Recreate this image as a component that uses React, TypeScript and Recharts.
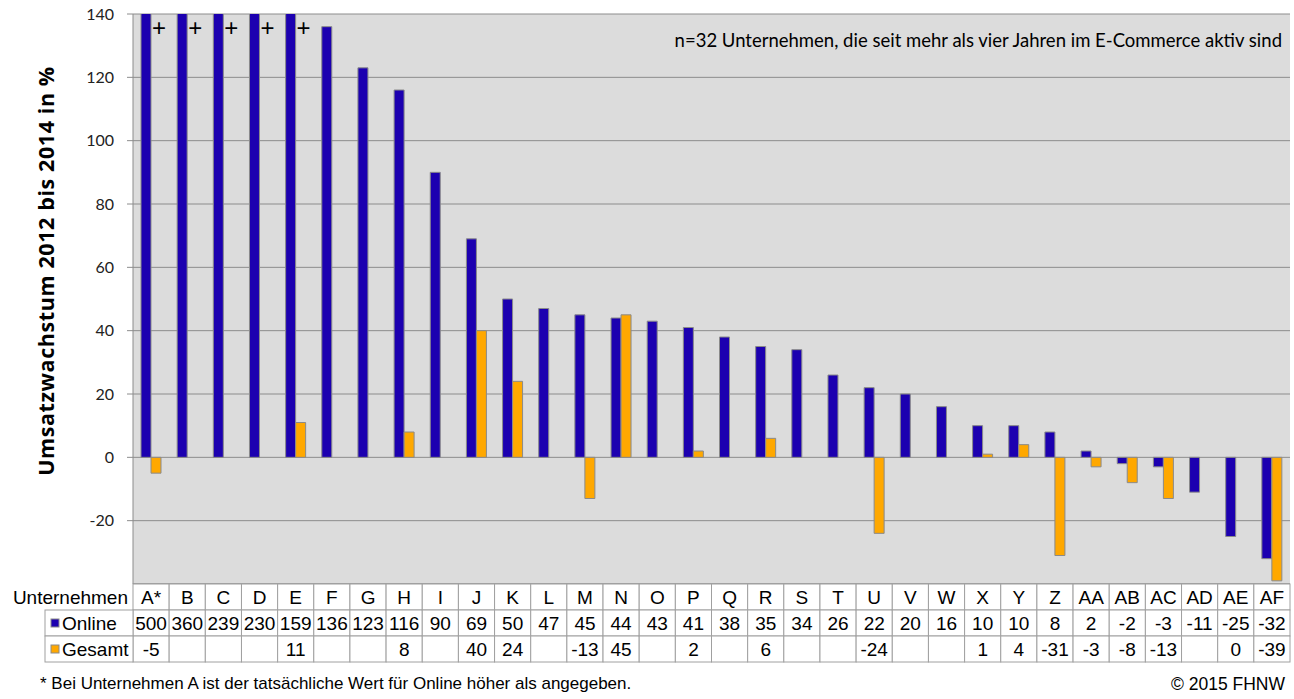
import React from "react";
import {
  BarChart,
  Bar,
  XAxis,
  YAxis,
  CartesianGrid,
  LabelList,
} from "recharts";

const companies = [
  "A*", "B", "C", "D", "E", "F", "G", "H", "I", "J", "K", "L", "M", "N", "O", "P",
  "Q", "R", "S", "T", "U", "V", "W", "X", "Y", "Z", "AA", "AB", "AC", "AD", "AE", "AF",
];
const online = [
  500, 360, 239, 230, 159, 136, 123, 116, 90, 69, 50, 47, 45, 44, 43, 41,
  38, 35, 34, 26, 22, 20, 16, 10, 10, 8, 2, -2, -3, -11, -25, -32,
];
const gesamt: (number | null)[] = [
  -5, null, null, null, 11, null, null, 8, null, 40, 24, null, -13, 45, null, 2,
  null, 6, null, null, -24, null, null, 1, 4, -31, -3, -8, -13, null, 0, -39,
];
const yTicks = [-20, 0, 20, 40, 60, 80, 100, 120, 140];
const Y_MIN = -40;
const Y_MAX = 140;

const data = companies.map((name, i) => ({ name, online: online[i], gesamt: gesamt[i] }));

const W = 1294;
const H = 699;
const LEFT = 133;
const RIGHT = 4;
const TOP = 14;
const X_AXIS_H = 78;
const BOTTOM = 37;
const PLOT_BOTTOM = H - BOTTOM - X_AXIS_H;
const CELL = (W - LEFT - RIGHT) / companies.length;
const ROW = [PLOT_BOTTOM, PLOT_BOTTOM + 26, PLOT_BOTTOM + 52, PLOT_BOTTOM + 78];

const BLUE = "#1C00B0";
const ORANGE = "#FFA800";
const EDGE = "#8A8A8A";
const GRID = "#8C8C8C";
const TABLE_LINE = "#A0A0A0";
const TABLE_FONT = "'Liberation Sans', Arial, sans-serif";
const CANDARA = "Lato, 'Open Sans', sans-serif";

function TableTick(props: any) {
  const { x, payload } = props;
  const i = payload.index;
  const x0 = x - CELL / 2;
  const g = gesamt[i];
  const txt = { fontFamily: TABLE_FONT, fontSize: 19, fill: "#000", textAnchor: "middle" as const };
  return (
    <g>
      {[0, 1, 2].map((r) => (
        <rect key={r} x={x0} y={ROW[r]} width={CELL} height={ROW[r + 1] - ROW[r]} fill="#fff" stroke={TABLE_LINE} />
      ))}
      <text x={x} y={ROW[0] + 20} {...txt}>{payload.value}</text>
      <text x={x} y={ROW[1] + 20} {...txt}>{online[i]}</text>
      {g !== null && <text x={x} y={ROW[2] + 20} {...txt}>{g}</text>}
      {i === 0 && (
        <g>
          <text x={x0 - 5} y={ROW[0] + 20} {...txt} textAnchor="end">Unternehmen</text>
          <rect x={45} y={ROW[1]} width={x0 - 45} height={26} fill="#fff" stroke={TABLE_LINE} />
          <rect x={45} y={ROW[2]} width={x0 - 45} height={26} fill="#fff" stroke={TABLE_LINE} />
          <rect x={51} y={ROW[1] + 9} width={8} height={8} fill={BLUE} stroke={EDGE} />
          <rect x={51} y={ROW[2] + 9} width={8} height={8} fill={ORANGE} stroke={EDGE} />
          <text x={62} y={ROW[1] + 20} {...txt} textAnchor="start">Online</text>
          <text x={62} y={ROW[2] + 20} {...txt} textAnchor="start">Gesamt</text>
        </g>
      )}
    </g>
  );
}

// "+" marks the bars that run past the top of the axis
function PlusMark(props: any) {
  const { x, y, width, height, value } = props;
  if (value <= Y_MAX) return null;
  const base = y + height;
  const top = base - (Y_MAX * height) / value;
  return (
    <text x={x + width * 1.8} y={top + 22} textAnchor="middle" fontFamily={TABLE_FONT} fontSize={24} fill="#000">
      +
    </text>
  );
}

function AxisTitle() {
  const cx = 45;
  const cy = 271;
  return (
    <text
      x={cx}
      y={cy}
      transform={`rotate(-90 ${cx} ${cy})`}
      textAnchor="middle"
      dominantBaseline="central"
      fontFamily="'Open Sans', Lato, sans-serif"
      fontWeight="bold"
      fontSize={21.5}
      letterSpacing={0.6}
      fill="#000"
    >
      Umsatzwachstum 2012 bis 2014 in %
    </text>
  );
}

export default function App() {
  return (
    <div style={{ position: "absolute", left: 0, top: 0, width: W, height: H, background: "#fff" }}>
      <BarChart
        width={W}
        height={H}
        data={data}
        margin={{ top: TOP, right: RIGHT, left: 0, bottom: BOTTOM }}
        barGap={0}
        barSize={10}
      >
        <CartesianGrid vertical={false} stroke={GRID} fill="#DCDCDC" fillOpacity={1} />
        <XAxis
          dataKey="name"
          interval={0}
          height={X_AXIS_H}
          tickLine={false}
          axisLine={{ stroke: GRID }}
          tick={(p: any) => <TableTick {...p} />}
        />
        <YAxis
          width={LEFT}
          domain={[Y_MIN, Y_MAX]}
          ticks={yTicks}
          allowDataOverflow
          interval={0}
          axisLine={{ stroke: GRID }}
          tickLine={{ stroke: GRID }}
          tickSize={6}
          tickMargin={13}
          tick={{ fontFamily: CANDARA, fontSize: 16, fill: "#222" }}
          label={{ content: () => <AxisTitle /> }}
        />
        <YAxis yAxisId="frame" orientation="right" width={0} tick={false} tickLine={false} axisLine={{ stroke: GRID }} />
        <Bar dataKey="online" fill={BLUE} stroke={EDGE} strokeWidth={1} isAnimationActive={false}>
          <LabelList dataKey="online" content={(p: any) => <PlusMark {...p} />} />
        </Bar>
        <Bar dataKey="gesamt" fill={ORANGE} stroke={EDGE} strokeWidth={1} isAnimationActive={false} />
      </BarChart>
      <div
        style={{
          position: "absolute",
          right: 12,
          top: 29,
          fontFamily: CANDARA,
          fontSize: 18.5,
          color: "#000",
          whiteSpace: "nowrap",
        }}
      >
        n=32 Unternehmen, die seit mehr als vier Jahren im E-Commerce aktiv sind
      </div>
      <div style={{ position: "absolute", left: 40, top: 674, fontFamily: TABLE_FONT, fontSize: 17, color: "#000", whiteSpace: "nowrap" }}>
        * Bei Unternehmen A ist der tatsächliche Wert für Online höher als angegeben.
      </div>
      <div style={{ position: "absolute", right: 9, top: 674, fontFamily: TABLE_FONT, fontSize: 17.5, color: "#000", whiteSpace: "nowrap" }}>
        © 2015 FHNW
      </div>
    </div>
  );
}
